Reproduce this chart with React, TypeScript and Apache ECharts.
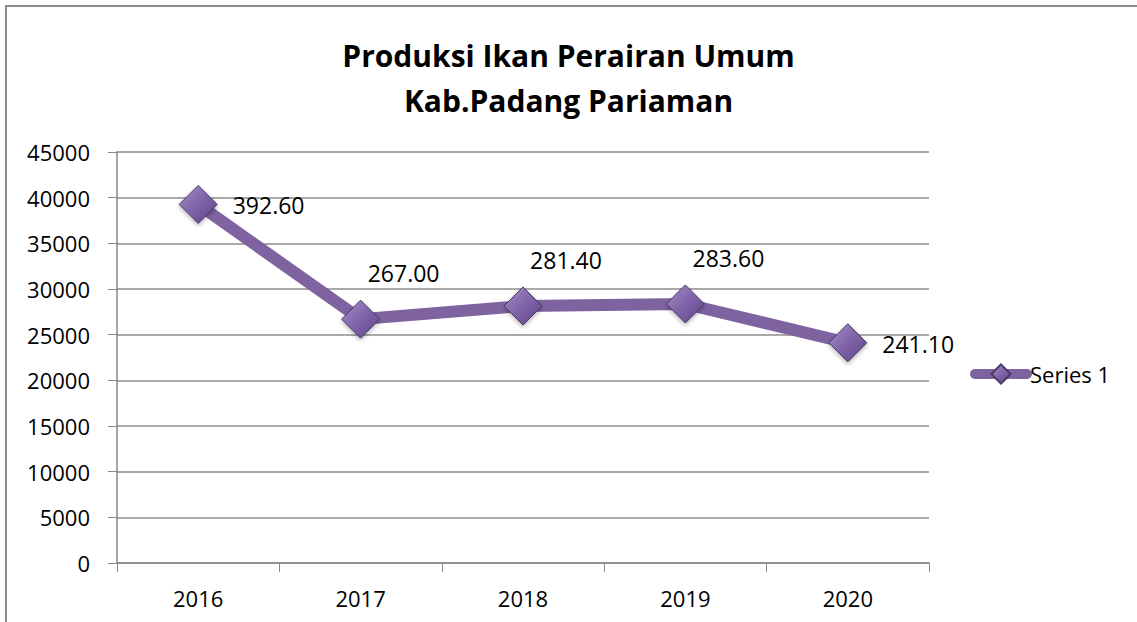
import React, { useEffect, useRef } from "react";
import * as echarts from "echarts";

const years = ["2016", "2017", "2018", "2019", "2020"];
const production = [39260, 26700, 28140, 28360, 24110];
const labelPlacement = ["right", "above", "above", "above", "right"];
const seriesName = "Series 1";
const titleText = "Produksi Ikan Perairan Umum\nKab.Padang Pariaman";

const FONT = "'Open Sans', 'Noto Sans', sans-serif";
const PURPLE = "#7f63a1";

export default function App() {
  const ref = useRef<HTMLDivElement>(null);
  useEffect(() => {
    document.body.style.margin = "0";
    const chart = echarts.init(ref.current!, null, { renderer: "svg" });
    const markerFill = new echarts.graphic.LinearGradient(0, 0, 1, 1, [
      { offset: 0, color: "#a58fca" },
      { offset: 0.5, color: "#7f63a8" },
      { offset: 1, color: "#5e4587" },
    ]);
    const data = production.map((v, i) => ({
      value: v,
      label:
        labelPlacement[i] === "right"
          ? { position: "right", distance: 15, offset: [0, 1] }
          : { position: "top", distance: 4, offset: [43, -11] },
    }));
    chart.setOption({
      animation: false,
      textStyle: { fontFamily: FONT },
      title: {
        text: titleText,
        left: "center",
        top: 28,
        textStyle: {
          fontFamily: FONT,
          fontWeight: "bold",
          fontSize: 30,
          lineHeight: 45,
          color: "#000",
        },
      },
      graphic: [
        {
          type: "rect",
          shape: { x: 6, y: 6, width: 1200, height: 700 },
          style: { fill: "none", stroke: "#8c8c8c", lineWidth: 2 },
          silent: true,
        },
      ],
      legend: {
        left: 970,
        top: 363,
        orient: "vertical",
        itemWidth: 52,
        itemHeight: 24,
        itemGap: 4,
        padding: 0,
        lineStyle: { width: 10, cap: "round", color: PURPLE },
        textStyle: { fontFamily: FONT, fontSize: 22, color: "#000", padding: [0, 0, 0, -2] },
        data: [{ name: seriesName }],
      },
      grid: { left: 117, right: 208, top: 152, bottom: 59 },
      xAxis: {
        type: "category",
        data: years,
        boundaryGap: true,
        axisLine: { show: true, lineStyle: { color: "#898989", width: 1.5 } },
        axisTick: { show: true, length: 9, interval: 0, lineStyle: { color: "#898989" } },
        axisLabel: { fontFamily: FONT, fontSize: 22, color: "#000", margin: 24 },
      },
      yAxis: {
        type: "value",
        min: 0,
        max: 45000,
        interval: 5000,
        axisLine: { show: true, lineStyle: { color: "#898989", width: 1.5 } },
        axisTick: { show: true, length: 9, inside: false, lineStyle: { color: "#898989" } },
        axisLabel: {
          fontFamily: FONT,
          fontSize: 22,
          color: "#000",
          margin: 27,
          formatter: (v: number) => String(v),
        },
        splitLine: { show: true, lineStyle: { color: "#8c8c8c", width: 1.5 } },
      },
      series: [
        {
          name: seriesName,
          type: "line",
          data,
          symbol: "diamond",
          symbolSize: 38,
          showAllSymbol: true,
          lineStyle: { color: PURPLE, width: 12 },
          itemStyle: {
            color: markerFill,
            borderColor: "#4a3a66",
            borderWidth: 1,
            shadowColor: "rgba(0,0,0,0.3)",
            shadowBlur: 4,
            shadowOffsetY: 2,
          },
          label: {
            show: true,
            fontFamily: FONT,
            fontSize: 23,
            color: "#000",
            formatter: (p: any) => (p.value / 100).toFixed(2),
          },
        },
      ],
    });
    return () => chart.dispose();
  }, []);
  return (
    <div
      ref={ref}
      style={{ position: "absolute", left: 0, top: 0, width: 1137, height: 622 }}
    />
  );
}
